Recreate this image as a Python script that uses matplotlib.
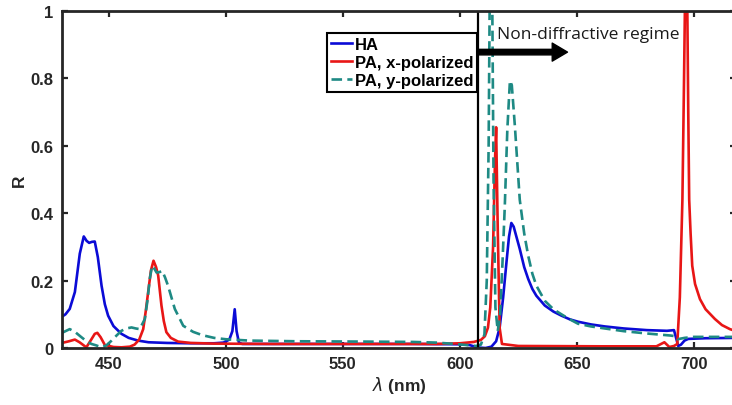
import matplotlib
matplotlib.use('Agg')
import matplotlib.pyplot as plt

# Reflectance spectra
wl_ha = [430, 431.5, 433.3, 435.5, 437.6, 439.3, 440.5, 441.6, 442.8, 444, 445.3,
         446.9, 448.3, 449.7, 452, 455.4, 458.5, 462.5, 467, 475, 485, 495, 499,
         501.5, 502.8, 503.8, 504.6, 505.6, 507, 520, 550, 580, 600, 604, 606.5,
         608.5, 611, 613.5, 615.5, 617, 618.5, 620, 621, 622, 623, 625.6, 627.5,
         629.2, 631, 632.7, 636.3, 640, 643.4, 647, 650.5, 656, 661.9, 670, 680,
         688.5, 691.5, 692.2, 693.3, 694.5, 696, 697.6, 705, 718]
r_ha = [0.093, 0.1, 0.116, 0.166, 0.28, 0.331, 0.318, 0.312, 0.315, 0.316, 0.27,
        0.185, 0.13, 0.096, 0.065, 0.042, 0.03, 0.022, 0.017, 0.015, 0.014, 0.014, 0.016,
        0.025, 0.05, 0.115, 0.05, 0.016, 0.012, 0.012, 0.012, 0.012, 0.011, 0.009, 0.004,
        0.001, 0.0, 0.004, 0.02, 0.06, 0.15, 0.26, 0.33, 0.371, 0.36, 0.294, 0.24,
        0.205, 0.175, 0.155, 0.126, 0.108, 0.096, 0.085, 0.078, 0.07, 0.064, 0.058, 0.053,
        0.051, 0.053, 0.035, 0.006, 0.01, 0.022, 0.027, 0.029, 0.03]

wl_px = [430, 433, 435.5, 437.5, 440.4, 442.5, 444, 445.1, 446.5, 448.3, 452, 455.4,
         459, 461, 463, 464.7, 465.8, 466.8, 468, 469.1, 470.2, 471.1, 472.5, 473.5,
         474.6, 476.5, 479.6, 485, 495, 520, 560, 590, 600, 606, 609, 610.7, 612,
         613, 614.2, 615, 615.5, 616.2, 617, 618, 625, 660, 684, 687.4, 689.5, 691.5,
         692.9, 694, 695.1, 695.8, 696.3, 697.1, 697.6, 698, 698.6, 699.3, 700.5,
         702.6, 705, 709, 712, 715.4, 718]
r_px = [0.015, 0.02, 0.025, 0.017, 0.002, 0.025, 0.042, 0.045, 0.032, 0.009, 0.003, 0.002,
        0.004, 0.01, 0.025, 0.056, 0.11, 0.165, 0.23, 0.259, 0.24, 0.215, 0.126, 0.08,
        0.047, 0.03, 0.019, 0.015, 0.013, 0.012, 0.012, 0.012, 0.014, 0.018, 0.024, 0.035,
        0.06, 0.12, 0.3, 0.55, 0.655, 0.35, 0.06, 0.012, 0.006, 0.005, 0.005, 0.017, 0.003,
        0.006, 0.012, 0.15, 0.44, 0.8, 1.08, 1.08, 0.7, 0.44, 0.34, 0.244, 0.19,
        0.145, 0.115, 0.086, 0.068, 0.056, 0.05]

wl_py = [430, 433.3, 435.5, 438.3, 440.5, 442.6, 444.5, 446.9, 449, 451.2, 453.3,
         455.4, 457.5, 459.7, 461.5, 463.2, 465.4, 466.5, 467.5, 468.5, 469.5, 470.4,
         471.6, 472.8, 474, 475.3, 478.2, 481.8, 486, 490, 495, 500, 510, 530, 560,
         580, 590, 598, 604, 607, 609, 610.5, 611.5, 612.3, 612.8, 613.8, 614.4, 615.2,
         616.2, 617.2, 618.2, 619.2, 620.3, 621.4, 622.2, 623.5, 625.6, 627.5, 629.2,
         631, 632.7, 636.3, 640, 643.4, 647, 650.5, 656, 661.9, 670, 680, 690, 692,
         693, 696, 700, 718]
r_py = [0.045, 0.056, 0.048, 0.032, 0.02, 0.012, 0.008, 0.002, 0.008, 0.022, 0.037,
        0.051, 0.058, 0.061, 0.058, 0.056, 0.086, 0.14, 0.205, 0.244, 0.235, 0.224,
        0.225, 0.229, 0.21, 0.185, 0.116, 0.066, 0.048, 0.038, 0.03, 0.026, 0.022, 0.02, 0.019,
        0.018, 0.016, 0.012, 0.008, 0.006, 0.01, 0.04, 0.2, 0.6, 1.08, 1.08, 0.5, 0.12,
        0.05, 0.1, 0.25, 0.42, 0.65, 0.793, 0.78, 0.66, 0.44, 0.34, 0.274,
        0.22, 0.185, 0.14, 0.115, 0.1, 0.085, 0.072, 0.064, 0.058, 0.05, 0.043, 0.037, 0.035,
        0.026, 0.03, 0.033, 0.033]

series_labels = ['HA', 'PA, x-polarized', 'PA, y-polarized']
x_ticks = [450, 500, 550, 600, 650, 700]
y_ticks = [0, 0.2, 0.4, 0.6, 0.8, 1]
y_tick_labels = ['0', '0.2', '0.4', '0.6', '0.8', '1']
regime_boundary = 607.7

BLUE = '#0b0bd6'
RED = '#e81616'
TEAL = '#1e8a84'
DARK = '#262626'

plt.rcParams['font.family'] = ['Liberation Sans', 'DejaVu Sans']

fig = plt.figure(figsize=(7.32, 4.06), dpi=100)
ax = fig.add_axes([62 / 732, 57 / 406, 674 / 732, 337 / 406])

ax.plot(wl_ha, r_ha, color=BLUE, lw=1.9, label=series_labels[0])
ax.plot(wl_px, r_px, color=RED, lw=1.9, label=series_labels[1])
ax.plot(wl_py, r_py, color=TEAL, lw=1.9, ls=(0, (4, 2)), label=series_labels[2])

# regime boundary + arrow
ax.axvline(regime_boundary, color='black', lw=1.6)
ax.annotate('', xy=(646, 0.878), xytext=(regime_boundary, 0.878),
            arrowprops=dict(facecolor='black', edgecolor='black', width=4,
                            headwidth=13, headlength=11, shrink=0))
ax.text(616, 0.932, 'Non-diffractive regime', fontsize=12.5, family='Open Sans',
        color='#1a1a1a', va='center', ha='left')

ax.set_xlim(430, 718)
ax.set_ylim(0, 1)
ax.set_xticks(x_ticks)
ax.set_yticks(y_ticks)
ax.set_yticklabels(y_tick_labels)
ax.tick_params(direction='in', length=4, width=1.6, top=True, right=True,
               labelsize=12, colors=DARK, pad=6)
for lab in ax.get_xticklabels() + ax.get_yticklabels():
    lab.set_fontweight('bold')
for sp in ax.spines.values():
    sp.set_linewidth(2)
    sp.set_color(DARK)

ax.set_xlabel(r'$\lambda$ (nm)', fontsize=12.5, fontweight='bold', color=DARK, labelpad=2)
ax.set_ylabel('R', fontsize=12.5, fontweight='bold', color=DARK, labelpad=3)

leg = ax.legend(loc='upper left', bbox_to_anchor=(0.393, 0.935),
                prop={'weight': 'bold', 'size': 12}, handlelength=1.3,
                handletextpad=0.15, labelspacing=0.2, borderpad=0.22,
                borderaxespad=0, fancybox=False, framealpha=1)
leg.get_frame().set_edgecolor('black')
leg.get_frame().set_linewidth(1.5)

fig.savefig('out.png', dpi=100)
